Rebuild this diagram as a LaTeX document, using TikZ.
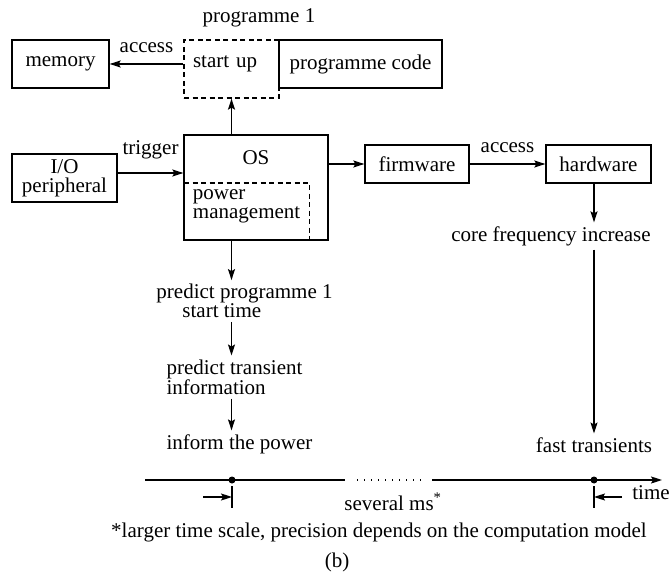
\documentclass[tikz,border=0pt]{standalone}
\usepackage{fontspec}
\setmainfont{Liberation Serif}
\usetikzlibrary{arrows.meta}

\begin{document}
\begin{tikzpicture}[x=1pt,y=-1pt,>={Stealth[length=11pt,width=7pt,inset=2pt]},line width=1.3pt,
  every node/.style={font=\fontsize{21}{19}\selectfont},
  box/.style={draw,inner sep=0pt,align=center},
  dashbox/.style={draw,dashed,dash pattern=on 5pt off 3.5pt},
  dot/.style={circle,fill,inner sep=0pt,minimum size=7pt}]
\useasboundingbox (0,0) rectangle (672,580);

\node (prog) at (259,18) {programme 1};
\node[box,minimum width=97pt,minimum height=48pt] (memory) at (60.5,64) {memory};
\node[dashbox,align=left,text width=77pt,inner xsep=9pt,inner ysep=4pt,text height=24pt,text depth=26pt] (startup) at (231.5,69) {start up};
\node[box,minimum width=163pt,minimum height=48pt] (code) at (360.5,64) {programme code};

\node[box,minimum width=105pt,minimum height=48pt] (io) at (64.5,178) {I/O\\peripheral};
\node[draw,minimum width=144pt,inner ysep=4pt,text height=26pt,text depth=71pt] (os) at (256,187.5) {OS};
\node[anchor=north west,minimum width=124pt,minimum height=57pt,inner sep=0pt] (pm) at (184,183) {};
\node[align=left,anchor=west] (pmtext) at (189,206) {power\\management};
\node[box,minimum width=104pt,minimum height=38pt] (fw) at (417,164) {firmware};
\node[box,minimum width=105pt,minimum height=38pt] (hw) at (598.5,164) {hardware};

\node (core) at (551,236) {core frequency increase};
\node (fast) at (594,445) {fast transients};
\node[align=left] (pp) at (244.5,301) {predict programme 1\\\hspace*{26pt}start time};
\node[align=left] (pt) at (234.5,377) {predict transient\\information};
\node (inform) at (239.5,444) {inform the power};

\draw[dashbox] (pm.north west) -- (pm.north east) -- (pm.south east);
\draw[->] (startup.west |- memory.east) -- node[above=7pt] {access} (memory.east);
\draw[->] (os.north -| startup) -- (startup.south);
\draw[->] ([yshift=5pt]io.east) -- node[above=10pt] {trigger} ([yshift=5pt]io.east -| os.west);
\draw[->] (os.east |- fw.west) -- (fw.west);
\draw[->] (fw.east) -- node[above=7pt] {access} (hw.west);
\draw[->] (hw.south -| fast) -- (core.north -| fast);
\draw[->] (core.south -| fast) -- (fast.north);
\draw[->] (os.south -| startup) -- (pp.north -| startup);
\draw[->] (pp.south -| startup) -- (pt.north -| startup);
\draw[->] (pt.south -| startup) -- (inform.north -| startup);

\coordinate (a0) at (145,480);
\coordinate (a1) at (345,480);
\coordinate (b0) at (357,480);
\coordinate (b1) at (423,480);
\coordinate (c0) at (432,480);
\coordinate (c1) at (662,480);
\node[dot] (d1) at (232,480) {};
\node[dot] (d2) at (594,480) {};
\draw (a0) -- (d1.center) -- (a1);
\draw[line width=1.1pt,dash pattern=on 1.2pt off 5.8pt] (b0) -- (b1);
\draw[->] (c0) -- (d2.center) -- (c1);

\draw ([yshift=-6pt]d1.center) -- ([yshift=-28pt]d1.center);
\draw ([yshift=-6pt]d2.center) -- ([yshift=-28pt]d2.center);
\coordinate (m1) at (232,497);
\coordinate (m2) at (594,497);
\draw[->] ([xshift=-29pt]m1) -- (m1);
\draw[->] ([xshift=28pt]m2) -- (m2);

\node (time) at (651,493) {time};
\node (ms) at (393,502) {several ms\textsuperscript{*}};
\node (note) at (379,532) {*larger time scale, precision depends on the computation model};
\node (cap) at (337,562) {(b)};
\end{tikzpicture}
\end{document}
